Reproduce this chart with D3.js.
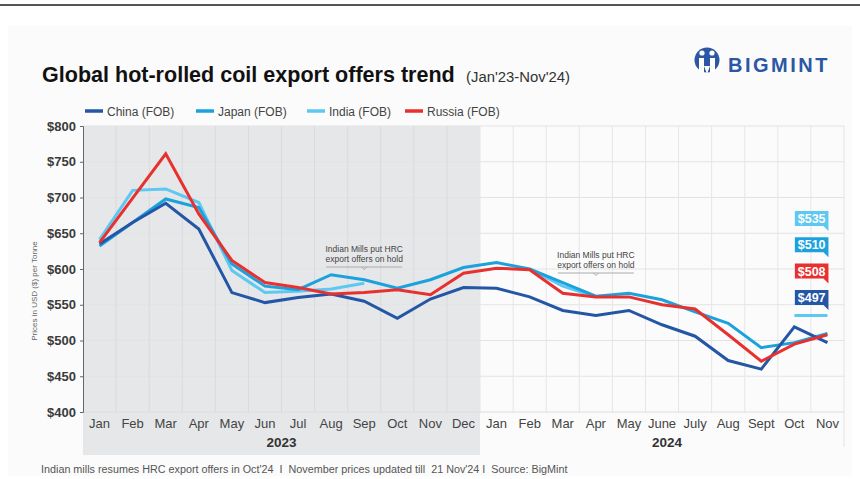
<!DOCTYPE html>
<html><head><meta charset="utf-8">
<script src="https://cdn.jsdelivr.net/npm/d3@7/dist/d3.min.js"></script>
<style>
html,body{margin:0;padding:0;background:#fff;}
svg{display:block;font-family:"Liberation Sans",Arial,Helvetica,sans-serif;}
</style></head>
<body>
<svg id="c" width="860" height="479"></svg>
<script>
// ---------- DATA ----------
const months = ["Jan","Feb","Mar","Apr","May","Jun","Jul","Aug","Sep","Oct","Nov","Dec",
                "Jan","Feb","Mar","Apr","May","June","July","Aug","Sept","Oct","Nov"];
const years = ["2023","2024"];
const china  = [635,665,692,656,567,553,560,565,555,531,558,574, 573,561,542,535,542,522,506,472,460,519,497];
const japan  = [632,665,698,686,607,576,571,592,585,573,585,602, 609,600,581,562,566,557,540,524,490,497,510];
const india  = [641,710,712,693,598,567,569,572,580,null,null,null, null,600,576,561,null,null,null,null,null,535,535];
const russia = [637,699,761,677,612,581,574,565,567,571,564,594, 601,599,566,561,561,550,544,508,471,495,508];
const yTicks = [400,450,500,550,600,650,700,750,800];
const seriesNames = ["China (FOB)","Japan (FOB)","India (FOB)","Russia (FOB)"];
const endLabels = [535,510,508,497]; // India, Japan, Russia, China
const annotations = [{idx:8, text:["Indian Mills put HRC","export offers on hold"]},
                     {idx:15,text:["Indian Mills put HRC","export offers on hold"]}];
const title = "Global hot-rolled coil export offers trend";
const subtitle = "(Jan'23-Nov'24)";
const footer = "Indian mills resumes HRC export offers in Oct'24  I  November prices updated till  21 Nov'24 I  Source: BigMint";

// ---------- STYLE ----------
const colors = {china:"#2456a6", japan:"#1ba2dd", india:"#5dc8f1", russia:"#e8312f"};
const svg = d3.select("#c");

// frame
svg.append("rect").attr("x",8).attr("y",26).attr("width",844).attr("height",450).attr("fill","#fbfbfb");
svg.append("line").attr("x1",0).attr("x2",860).attr("y1",5).attr("y2",5).attr("stroke","#555").attr("stroke-width",2);

const x = d3.scaleBand().domain(d3.range(months.length)).range([83,844]).padding(0);
const bw = x.bandwidth();
const cx = i => x(i) + bw/2;
const y = d3.scaleLinear().domain([400,800]).range([412,126]);

// gray 2023 band
svg.append("rect").attr("x",x(0)).attr("y",y(800)).attr("width",x(12)-x(0)).attr("height",455-y(800)).attr("fill","#e6e7e9");

// grid
const g = svg.append("g");
g.selectAll(".hg").data(yTicks.filter(d=>d>400)).join("line")
  .attr("x1",x(0)).attr("x2",x(22)+bw).attr("y1",d=>y(d)).attr("y2",d=>y(d))
  .attr("stroke","#e3e3e5").attr("stroke-width",1);
g.selectAll(".vg").data(d3.range(1,months.length)).join("line")
  .attr("x1",d=>x(d)).attr("x2",d=>x(d)).attr("y1",y(800)).attr("y2",y(400))
  .attr("stroke",d=>d<12?"#d9dadd":"#e6e6e6").attr("stroke-width",1);
g.append("line").attr("x1",x(22)+bw).attr("x2",x(22)+bw).attr("y1",y(800)).attr("y2",447).attr("stroke","#e3e3e3");
g.append("line").attr("x1",x(0)).attr("x2",x(22)+bw).attr("y1",y(400)).attr("y2",y(400)).attr("stroke","#dcdcdc");

// y axis
const ya = svg.append("g").attr("transform",`translate(${x(0)},0)`)
  .call(d3.axisLeft(y).tickValues(yTicks).tickFormat(d=>"$"+d).tickSize(3).tickPadding(4));
ya.select(".domain").attr("stroke","#666");
ya.selectAll(".tick line").attr("stroke","#666");
ya.selectAll("text").attr("font-size",13).attr("font-weight","bold").attr("fill","#3a3a3a");

svg.append("text").attr("transform",`translate(37,291) rotate(-90)`).attr("text-anchor","middle")
  .attr("font-size",8).attr("fill","#666").text("Prices in USD ($) per Tonne");

// x labels
svg.append("g").selectAll("text").data(months).join("text")
  .attr("x",(d,i)=>cx(i)).attr("y",428).attr("text-anchor","middle")
  .attr("font-size",13).attr("fill","#444").text(d=>d);
svg.append("g").selectAll("text").data(years).join("text")
  .attr("x",(d,i)=> i===0 ? (x(0)+x(12))/2 : (x(12)+x(22)+bw)/2 + 5).attr("y",447).attr("text-anchor","middle")
  .attr("font-size",13.5).attr("font-weight","bold").attr("fill","#333").text(d=>d);

// annotations
annotations.forEach((a,k)=>{
  const ax = cx(a.idx);
  const base = k===0 ? 252 : 258;
  const ag = svg.append("g");
  ag.selectAll("text").data(a.text).join("text")
    .attr("x",ax).attr("y",(d,i)=>base+i*10).attr("text-anchor","middle")
    .attr("font-size",8.5).attr("fill","#444").text(d=>d);
  const uy = base+15;
  ag.append("line").attr("x1",ax-38).attr("x2",ax+38).attr("y1",uy).attr("y2",uy).attr("stroke","#aaa").attr("stroke-width",1);
  ag.append("path").attr("d",`M${ax-2.5},${uy} L${ax},${uy+2.5} L${ax+2.5},${uy}`).attr("fill","none").attr("stroke","#aaa");
});

// lines
const line = d3.line().defined(d=>d!=null).x((d,i)=>cx(i)).y(d=>y(d));
const lineData = [
  {k:"india",v:india},{k:"japan",v:japan},{k:"china",v:china},{k:"russia",v:russia}
];
svg.append("g").selectAll("path").data(lineData).join("path")
  .attr("d",d=>line(d.v)).attr("fill","none").attr("stroke",d=>colors[d.k])
  .attr("stroke-width",3).attr("stroke-linejoin","miter");

// end labels
const labColors = [colors.india, colors.japan, colors.russia, colors.china];
const lx0 = cx(21)+0.5, lx1 = cx(22)+1;
endLabels.forEach((v,i)=>{
  const top = 211 + i*26.3;
  const h = 15;
  const gg = svg.append("g");
  gg.append("path").attr("d",`M${lx0},${top} H${lx1} V${top+h+5} L${lx1-5},${top+h} H${lx0} Z`).attr("fill",labColors[i]);
  gg.append("text").attr("x",(lx0+lx1)/2).attr("y",top+12).attr("text-anchor","middle")
    .attr("font-size",12.5).attr("font-weight","bold").attr("fill","#fff").text("$"+v);
});

// legend
const legX = [85,196,307,405];
const legC = [colors.china,colors.japan,colors.india,colors.russia];
seriesNames.forEach((n,i)=>{
  svg.append("line").attr("x1",legX[i]).attr("x2",legX[i]+18).attr("y1",111).attr("y2",111)
    .attr("stroke",legC[i]).attr("stroke-width",3.5);
  svg.append("text").attr("x",legX[i]+22).attr("y",115.5).attr("font-size",12).attr("fill","#444").text(n);
});

// title: fit font size so natural width matches the reference width
function fitText(sel, targetW, baseSize){
  sel.attr("font-size", baseSize);
  const w = sel.node().getComputedTextLength();
  if (w > targetW) sel.attr("font-size", baseSize*targetW/w);
}
const t1 = svg.append("text").attr("x",42).attr("y",82).attr("font-weight","bold")
  .attr("font-family","'Liberation Sans Narrow','Liberation Sans',Arial,sans-serif")
  .attr("fill","#111").text(title);
fitText(t1, 413, 24);
const t2 = svg.append("text").attr("x",466).attr("y",82).attr("fill","#333").text(subtitle);
fitText(t2, 104, 15);

// footer
const ft = svg.append("text").attr("x",41).attr("y",473).attr("fill","#555")
  .style("white-space","pre").text(footer);
fitText(ft, 527, 11);

// logo
const lg = svg.append("g");
lg.append("circle").attr("cx",707).attr("cy",60).attr("r",12.5).attr("fill","#2b57a5");
lg.append("circle").attr("cx",702).attr("cy",53).attr("r",2.6).attr("fill","#fff");
lg.append("circle").attr("cx",712).attr("cy",53).attr("r",2.6).attr("fill","#fff");
lg.append("path").attr("d","M699,58 h5 v14 h-5 Z M710,58 h5 v14 h-5 Z").attr("fill","#fff");
lg.append("path").attr("d","M704,66 L707,74 L710,66 Z").attr("fill","#fff");
lg.append("text").attr("x",728).attr("y",72).attr("font-size",20).attr("font-weight","bold")
  .attr("fill","#2b57a5").attr("letter-spacing",2.5).text("BIGMINT");
</script>
</body></html>
